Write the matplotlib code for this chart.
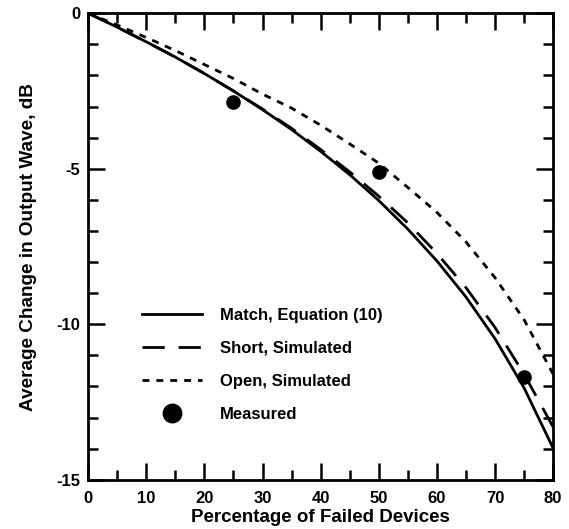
import matplotlib
matplotlib.use('Agg')
import matplotlib.pyplot as plt
from matplotlib.ticker import MultipleLocator

plt.rcParams['font.family'] = ['Liberation Sans', 'DejaVu Sans']
plt.rcParams['font.weight'] = 'bold'
plt.rcParams['axes.labelweight'] = 'bold'
plt.rcParams['axes.unicode_minus'] = False

# values
pct = [0, 5, 10, 15, 20, 25, 30, 35, 40, 45, 50, 55, 60, 65, 70, 75, 80]
match = [0, -0.45, -0.92, -1.41, -1.94, -2.50, -3.10, -3.74, -4.44, -5.19,
         -6.02, -6.94, -7.96, -9.12, -10.46, -12.04, -13.98]
short = [0, -0.45, -0.92, -1.41, -1.94, -2.50, -3.08, -3.70, -4.38, -5.10,
         -5.88, -6.74, -7.72, -8.82, -10.1, -11.6, -13.3]
open_ = [0, -0.38, -0.78, -1.2, -1.65, -2.1, -2.6, -3.05, -3.6, -4.2,
         -4.82, -5.6, -6.4, -7.35, -8.5, -9.85, -11.6]
meas_x = [25, 50, 75]
meas_y = [-2.85, -5.1, -11.7]

fig = plt.figure(figsize=(5.69, 5.29), dpi=100)
ax = fig.add_axes([0.155, 0.093, 0.817, 0.882])

ax.plot(pct, match, color='black', lw=2, label='Match, Equation (10)')
ax.plot(pct, short, color='black', lw=2, dashes=(8, 5), label='Short, Simulated')
ax.plot(pct, open_, color='black', lw=2, dashes=(2.5, 2.5), label='Open, Simulated')
ax.plot(meas_x, meas_y, 'o', color='black', ms=9.5, label='Measured')

ax.set_xlim(0, 80)
ax.set_ylim(-15, 0)
ax.xaxis.set_major_locator(MultipleLocator(10))
ax.xaxis.set_minor_locator(MultipleLocator(5))
ax.yaxis.set_major_locator(MultipleLocator(5))
ax.yaxis.set_minor_locator(MultipleLocator(1))
ax.tick_params(which='both', direction='in', top=True, right=True, width=1.8, labelsize=12)
ax.tick_params(which='major', length=12)
ax.tick_params(which='minor', length=7)
ax.tick_params(axis='x', pad=8)
ax.tick_params(axis='y', pad=5.5)
for s in ax.spines.values():
    s.set_linewidth(2)

ax.set_xlabel('Percentage of Failed Devices', fontsize=13.5, labelpad=2)
ax.set_ylabel('Average Change in Output Wave, dB', fontsize=13.7, labelpad=14)

ax.legend(loc='upper left', bbox_to_anchor=(0.116, 0.369), frameon=False,
          fontsize=12, handlelength=3.6, handletextpad=1.05, labelspacing=1.08,
          borderpad=0, borderaxespad=0, markerscale=1.4, numpoints=1)

fig.savefig('out.png', dpi=100)
